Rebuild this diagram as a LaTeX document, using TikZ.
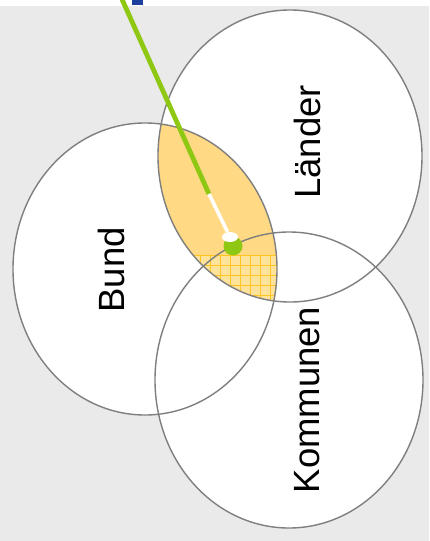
\documentclass[tikz,border=0pt]{standalone}
\usepackage{fontspec}
\setmainfont{Liberation Sans}
\usetikzlibrary{positioning,shapes.geometric}
\definecolor{bgGray}{HTML}{EAEAEA}
\definecolor{ringGray}{HTML}{7F7F7F}
\definecolor{lensYellow}{HTML}{FFD984}
\definecolor{gridFill}{HTML}{FFE39A}
\definecolor{gridYellow}{HTML}{FFC41F}
\definecolor{pinGreen}{HTML}{8FC813}
\definecolor{titleBlue}{HTML}{1C3E9C}
\tikzset{
    ring/.style={draw=ringGray,line width=1.4pt},
    setlabel/.style={rotate=90,inner sep=0pt,
        font=\fontsize{36.5}{40}\selectfont},
    gridline/.style={draw=gridYellow,line width=0.7pt},
    pinshaft/.style={draw=pinGreen,line width=4.8pt},
    pinneedle/.style={draw=white,line width=3.6pt},
    pinhead/.style={circle,fill=pinGreen,minimum size=19pt,inner sep=0pt},
    pinshine/.style={ellipse,fill=white,minimum width=16pt,minimum height=10pt,inner sep=0pt}
}

\begin{document}
\begin{tikzpicture}[x=1pt,y=-1pt]
    \useasboundingbox (0,0) rectangle (429,541);
    \fill[bgGray] (0,6) rectangle (429,541);
    \fill[titleBlue] (132,0) rectangle (143,5);

    % centres of the three sets
    \coordinate (cBund) at (145,269);
    \coordinate (cLaender) at (290,156);
    \coordinate (cKommunen) at (289,380);

    % white sets
    \fill[white] (cBund) ellipse [x radius=132pt,y radius=146pt];
    \fill[white] (cLaender) ellipse [x radius=132pt,y radius=146pt];
    \fill[white] (cKommunen) ellipse [x radius=134pt,y radius=148pt];

    % Bund and Laender overlap
    \begin{scope}
        \clip (cBund) ellipse [x radius=132pt,y radius=146pt];
        \fill[lensYellow] (cLaender) ellipse [x radius=132pt,y radius=146pt];
        \clip (cLaender) ellipse [x radius=132pt,y radius=146pt];
        \clip (150,255) rectangle (300,320);
        \fill[gridFill] (150,255) rectangle (300,320);
        \foreach \gx in {160,170,...,290}
            \draw[gridline] (\gx,250) -- (\gx,320);
        \foreach \gy in {255,265,...,315}
            \draw[gridline] (150,\gy) -- (300,\gy);
    \end{scope}

    % outlines
    \draw[ring] (cBund) ellipse [x radius=132pt,y radius=146pt];
    \draw[ring] (cLaender) ellipse [x radius=132pt,y radius=146pt];
    \draw[ring] (cKommunen) ellipse [x radius=134pt,y radius=148pt];

    \node[setlabel] (bund) at (111,270) {Bund};
    \node[setlabel] (laender) at (307,142) {Länder};
    \node[setlabel] (kommunen) at (307,400) {Kommunen};

    % pin
    \coordinate (pinTop) at (121,-3);
    \coordinate (pinMid) at (209,194);
    \node[pinhead] (pin) at (233,246) {};
    \node[pinshine] (shine) at (230,237) {};
    \draw[pinshaft] (pinTop) -- (pinMid);
    \draw[pinneedle] (pinMid) -- (shine);
\end{tikzpicture}
\end{document}
